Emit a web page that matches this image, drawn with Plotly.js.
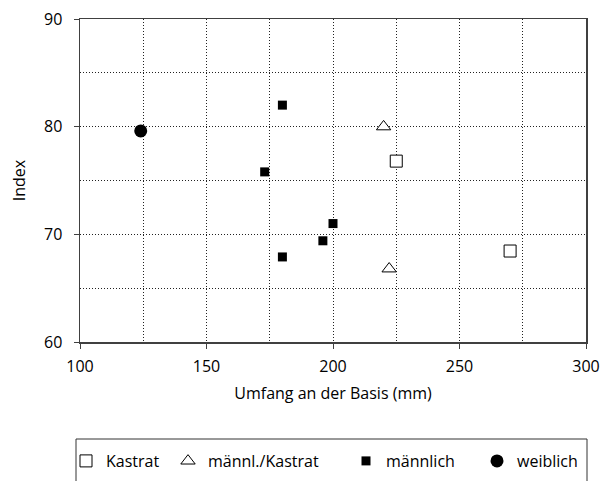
<!DOCTYPE html>
<html>
<head>
<meta charset="utf-8">
<script src="https://cdn.plot.ly/plotly-3.0.1.min.js"></script>
<style>html,body{margin:0;padding:0;background:#fff;}</style>
</head>
<body>
<div id="chart" style="width:605px;height:481px;"></div>
<script>
// Data
const seriesNames = ['Kastrat', 'männl./Kastrat', 'männlich', 'weiblich'];
const kastratX = [225, 270];
const kastratY = [76.8, 68.45];
const maennlKastratX = [220, 222.2];
const maennlKastratY = [80, 66.8];
const maennlichX = [180, 173, 200, 196, 180];
const maennlichY = [82, 75.8, 71, 69.4, 67.9];
const weiblichX = [124];
const weiblichY = [79.6];
const xTickVals = [100, 150, 200, 250, 300];
const yTickVals = [60, 70, 80, 90];

const traces = [
  {x: kastratX, y: kastratY, name: seriesNames[0], type: 'scatter', mode: 'markers', legend: 'legend',
   marker: {symbol: 'square', size: 12, color: '#fff', line: {color: '#000', width: 1}}},
  {x: maennlKastratX, y: maennlKastratY, name: seriesNames[1], type: 'scatter', mode: 'markers', legend: 'legend2',
   marker: {symbol: 'triangle-up', size: 12.5, color: '#fff', line: {color: '#000', width: 1}}},
  {x: maennlichX, y: maennlichY, name: seriesNames[2], type: 'scatter', mode: 'markers', legend: 'legend3',
   marker: {symbol: 'square', size: 9, color: '#000', line: {color: '#000', width: 0}}},
  {x: weiblichX, y: weiblichY, name: seriesNames[3], type: 'scatter', mode: 'markers', legend: 'legend4',
   marker: {symbol: 'circle', size: 13, color: '#000', line: {color: '#000', width: 0}}}
];

const gridDash = '1px,2px';
function leg(px) {
  return {x: (px - 24) / 605, xref: 'container', xanchor: 'left',
          y: (481 - 461) / 481, yref: 'container', yanchor: 'middle',
          orientation: 'h', bgcolor: 'rgba(0,0,0,0)', borderwidth: 0,
          font: {family: 'Open Sans, sans-serif', size: 16, color: '#000'}};
}

const layout = {
  width: 605, height: 481,
  margin: {l: 80, r: 19, t: 19, b: 139, autoexpand: false},
  paper_bgcolor: '#fff', plot_bgcolor: '#fff',
  font: {family: 'Open Sans, sans-serif', size: 16, color: '#000'},
  showlegend: true,
  xaxis: {
    range: [100, 300], tickvals: xTickVals, ticktext: xTickVals.map(String),
    ticks: 'outside', ticklen: 5, tickcolor: '#404040', tickwidth: 1,
    ticklabelstandoff: 4,
    showline: true, mirror: true, linecolor: '#404040', linewidth: 1.5,
    showgrid: true, gridcolor: '#222', gridwidth: 1, griddash: gridDash,
    minor: {dtick: 25, tick0: 100, showgrid: true, gridcolor: '#222', gridwidth: 1, griddash: gridDash, ticks: ''},
    zeroline: false, automargin: false,
    title: {text: 'Umfang an der Basis (mm)', standoff: 12, font: {size: 16}}
  },
  yaxis: {
    range: [60, 90], tickvals: yTickVals, ticktext: yTickVals.map(String),
    ticks: 'outside', ticklen: 5, tickcolor: '#404040', tickwidth: 1,
    ticklabelstandoff: 8,
    showline: true, mirror: true, linecolor: '#404040', linewidth: 1.5,
    showgrid: true, gridcolor: '#222', gridwidth: 1, griddash: gridDash,
    minor: {dtick: 5, tick0: 60, showgrid: true, gridcolor: '#222', gridwidth: 1, griddash: gridDash, ticks: ''},
    zeroline: false, automargin: false,
    title: {text: 'Index', standoff: 14, font: {size: 16}}
  },
  legend: leg(90),
  legend2: leg(192),
  legend3: leg(370),
  legend4: leg(501),
  shapes: [{
    type: 'rect', xref: 'paper', yref: 'paper',
    x0: (76 - 80) / 506, x1: (587 - 80) / 506,
    y0: -0.6, y1: (342 - 439) / 323,
    line: {color: '#333', width: 1}, fillcolor: 'rgba(0,0,0,0)', layer: 'above'
  }]
};

Plotly.newPlot('chart', traces, layout, {displayModeBar: false, staticPlot: true});
</script>
</body>
</html>
